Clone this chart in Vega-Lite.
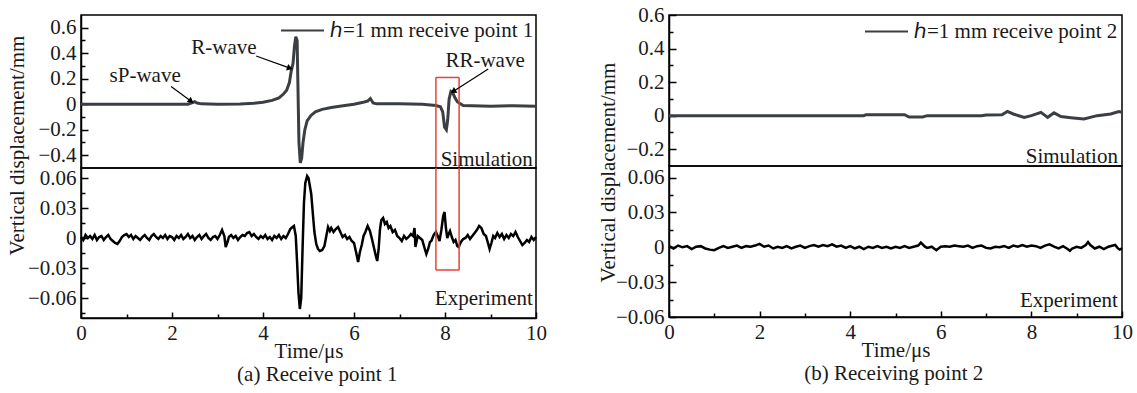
{
  "$schema": "https://vega.github.io/schema/vega-lite/v6.json",
  "padding": {"left": 5, "top": 3, "right": 5, "bottom": 5},
  "background": "white",
  "config": {
    "font": "Liberation Serif",
    "view": {"stroke": "black", "strokeWidth": 1.5},
    "axis": {"labelFont": "Liberation Serif", "labelFontSize": 21, "labelColor": "#1a1a1a", "titleFont": "Liberation Serif", "titleFontSize": 21, "titleFontWeight": "normal", "titleColor": "#1a1a1a", "domainColor": "black", "domainWidth": 1.5, "tickColor": "black", "tickWidth": 1.5, "grid": false, "labelFlush": false, "labelOverlap": false, "labelBound": false, "labelPadding": 12},
    "legend": {"labelFont": "Liberation Serif", "labelFontSize": 21, "labelColor": "#1a1a1a", "symbolType": "stroke", "symbolStrokeWidth": 2, "symbolSize": 1849, "symbolStrokeColor": "black", "labelLimit": 400},
    "title": {"font": "Liberation Serif", "fontSize": 21, "fontWeight": "normal", "color": "#1a1a1a"},
    "text": {"font": "Liberation Serif", "fontSize": 21, "color": "#1a1a1a"}
  },
  "datasets": {
    "simA": [
      {"t":0,"v":0},{"t":2.35,"v":0},{"t":2.45,"v":0.012},{"t":2.5,"v":0.02},{"t":2.55,"v":0.01},{"t":2.65,"v":0.003},{"t":3.0,"v":0.0},{"t":3.5,"v":0.002},{"t":3.8,"v":0.008},{"t":4.0,"v":0.015},{"t":4.2,"v":0.03},{"t":4.35,"v":0.05},{"t":4.45,"v":0.08},{"t":4.52,"v":0.11},{"t":4.58,"v":0.17},{"t":4.62,"v":0.26},{"t":4.66,"v":0.32},{"t":4.69,"v":0.45},{"t":4.72,"v":0.53},{"t":4.75,"v":0.5},{"t":4.77,"v":0.1},{"t":4.79,"v":-0.3},{"t":4.82,"v":-0.46},{"t":4.85,"v":-0.42},{"t":4.88,"v":-0.3},{"t":4.92,"v":-0.2},{"t":4.97,"v":-0.13},{"t":5.05,"v":-0.09},{"t":5.15,"v":-0.06},{"t":5.3,"v":-0.04},{"t":5.5,"v":-0.025},{"t":5.8,"v":-0.01},{"t":6.0,"v":0.0},{"t":6.2,"v":0.015},{"t":6.3,"v":0.025},{"t":6.36,"v":0.045},{"t":6.42,"v":0.01},{"t":6.5,"v":0.003},{"t":7.0,"v":0.003},{"t":7.5,"v":0.0},{"t":7.8,"v":-0.01},{"t":7.9,"v":-0.02},{"t":7.95,"v":-0.06},{"t":7.99,"v":-0.18},{"t":8.03,"v":-0.2},{"t":8.06,"v":-0.12},{"t":8.09,"v":0.04},{"t":8.13,"v":0.1},{"t":8.17,"v":0.09},{"t":8.22,"v":0.05},{"t":8.27,"v":0.02},{"t":8.33,"v":0.005},{"t":8.4,"v":-0.01},{"t":8.6,"v":-0.012},{"t":9.0,"v":-0.015},{"t":9.5,"v":-0.012},{"t":10.0,"v":-0.015}
    ],
    "expA": [
      {"t":0.00,"v":0.001},{"t":0.05,"v":-0.002},{"t":0.10,"v":0.003},{"t":0.15,"v":0.000},{"t":0.20,"v":0.002},{"t":0.25,"v":-0.001},{"t":0.30,"v":0.003},{"t":0.35,"v":-0.002},{"t":0.40,"v":0.001},{"t":0.45,"v":0.002},{"t":0.50,"v":-0.002},{"t":0.55,"v":0.001},{"t":0.60,"v":0.003},{"t":0.65,"v":-0.001},{"t":0.70,"v":-0.003},{"t":0.75,"v":-0.005},{"t":0.80,"v":-0.006},{"t":0.85,"v":-0.003},{"t":0.90,"v":0.001},{"t":0.95,"v":0.003},
      {"t":1.00,"v":0.004},{"t":1.05,"v":0.001},{"t":1.10,"v":0.003},{"t":1.15,"v":-0.001},{"t":1.20,"v":0.002},{"t":1.25,"v":0.000},{"t":1.30,"v":-0.002},{"t":1.35,"v":0.001},{"t":1.40,"v":0.003},{"t":1.45,"v":0.000},{"t":1.50,"v":-0.002},{"t":1.55,"v":0.002},{"t":1.60,"v":0.004},{"t":1.65,"v":0.001},{"t":1.70,"v":-0.001},{"t":1.75,"v":0.002},{"t":1.80,"v":0.000},{"t":1.85,"v":0.003},{"t":1.90,"v":-0.001},{"t":1.95,"v":0.002},
      {"t":2.00,"v":0.001},{"t":2.05,"v":-0.002},{"t":2.10,"v":0.002},{"t":2.15,"v":0.000},{"t":2.20,"v":0.003},{"t":2.25,"v":-0.001},{"t":2.30,"v":0.001},{"t":2.35,"v":0.004},{"t":2.40,"v":0.000},{"t":2.45,"v":0.002},{"t":2.50,"v":-0.002},{"t":2.55,"v":0.001},{"t":2.60,"v":0.003},{"t":2.65,"v":-0.001},{"t":2.70,"v":0.002},{"t":2.75,"v":0.004},{"t":2.80,"v":0.000},{"t":2.85,"v":-0.002},{"t":2.90,"v":0.001},{"t":2.95,"v":0.002},
      {"t":3.00,"v":-0.001},{"t":3.05,"v":0.003},{"t":3.10,"v":0.008},{"t":3.15,"v":0.002},{"t":3.18,"v":-0.009},{"t":3.22,"v":-0.004},{"t":3.25,"v":0.001},{"t":3.30,"v":0.003},{"t":3.35,"v":0.000},{"t":3.40,"v":0.002},{"t":3.45,"v":-0.002},{"t":3.50,"v":0.001},{"t":3.55,"v":0.003},{"t":3.60,"v":0.002},{"t":3.65,"v":0.005},{"t":3.70,"v":0.006},{"t":3.75,"v":0.002},{"t":3.80,"v":0.004},{"t":3.85,"v":0.001},{"t":3.90,"v":-0.001},{"t":3.95,"v":0.002},
      {"t":4.00,"v":0.000},{"t":4.05,"v":0.003},{"t":4.10,"v":-0.001},{"t":4.15,"v":0.001},{"t":4.20,"v":-0.002},{"t":4.25,"v":0.002},{"t":4.30,"v":0.000},{"t":4.35,"v":0.003},{"t":4.40,"v":-0.001},{"t":4.45,"v":0.002},{"t":4.50,"v":0.000},{"t":4.55,"v":0.004},{"t":4.60,"v":0.009},{"t":4.65,"v":0.011},{"t":4.68,"v":0.012},{"t":4.72,"v":0.002},{"t":4.75,"v":-0.025},{"t":4.78,"v":-0.055},{"t":4.81,"v":-0.071},{"t":4.84,"v":-0.060},{"t":4.87,"v":-0.010},{"t":4.90,"v":0.035},{"t":4.93,"v":0.055},{"t":4.97,"v":0.062},
      {"t":5.00,"v":0.060},{"t":5.03,"v":0.052},{"t":5.06,"v":0.044},{"t":5.10,"v":0.022},{"t":5.13,"v":0.006},{"t":5.17,"v":-0.006},{"t":5.21,"v":-0.011},{"t":5.25,"v":-0.013},{"t":5.30,"v":-0.012},{"t":5.35,"v":-0.008},{"t":5.40,"v":0.004},{"t":5.43,"v":0.011},{"t":5.47,"v":0.007},{"t":5.50,"v":0.010},{"t":5.55,"v":0.006},{"t":5.60,"v":0.009},{"t":5.65,"v":0.011},{"t":5.70,"v":0.006},{"t":5.75,"v":0.001},{"t":5.80,"v":0.003},{"t":5.85,"v":-0.001},{"t":5.90,"v":0.001},{"t":5.95,"v":-0.003},
      {"t":6.00,"v":-0.005},{"t":6.05,"v":-0.015},{"t":6.09,"v":-0.024},{"t":6.13,"v":-0.014},{"t":6.17,"v":-0.007},{"t":6.21,"v":0.002},{"t":6.25,"v":0.006},{"t":6.30,"v":0.012},{"t":6.35,"v":0.007},{"t":6.40,"v":-0.002},{"t":6.44,"v":-0.010},{"t":6.48,"v":-0.018},{"t":6.51,"v":-0.023},{"t":6.54,"v":-0.012},{"t":6.57,"v":0.008},{"t":6.60,"v":0.018},{"t":6.64,"v":0.020},{"t":6.68,"v":0.014},{"t":6.72,"v":0.016},{"t":6.76,"v":0.010},{"t":6.80,"v":0.012},{"t":6.85,"v":0.006},{"t":6.90,"v":0.008},{"t":6.95,"v":0.002},
      {"t":7.00,"v":0.000},{"t":7.05,"v":-0.003},{"t":7.10,"v":0.002},{"t":7.15,"v":-0.001},{"t":7.20,"v":0.001},{"t":7.25,"v":0.004},{"t":7.30,"v":0.002},{"t":7.33,"v":0.010},{"t":7.35,"v":-0.009},{"t":7.40,"v":0.002},{"t":7.45,"v":0.000},{"t":7.50,"v":-0.002},{"t":7.55,"v":-0.010},{"t":7.59,"v":-0.016},{"t":7.63,"v":-0.011},{"t":7.67,"v":-0.004},{"t":7.70,"v":-0.003},{"t":7.75,"v":0.003},{"t":7.80,"v":0.006},{"t":7.85,"v":0.001},{"t":7.88,"v":-0.003},{"t":7.92,"v":0.008},{"t":7.96,"v":0.022},{"t":7.99,"v":0.026},
      {"t":8.02,"v":0.010},{"t":8.05,"v":0.000},{"t":8.08,"v":0.004},{"t":8.11,"v":0.007},{"t":8.15,"v":0.001},{"t":8.19,"v":-0.004},{"t":8.23,"v":-0.002},{"t":8.27,"v":-0.008},{"t":8.30,"v":-0.009},{"t":8.35,"v":-0.004},{"t":8.40,"v":-0.001},{"t":8.45,"v":0.000},{"t":8.50,"v":0.003},{"t":8.55,"v":-0.001},{"t":8.60,"v":0.002},{"t":8.65,"v":0.005},{"t":8.70,"v":0.008},{"t":8.75,"v":0.012},{"t":8.80,"v":0.010},{"t":8.85,"v":0.004},{"t":8.90,"v":0.002},{"t":8.95,"v":-0.006},{"t":8.98,"v":-0.011},
      {"t":9.02,"v":-0.005},{"t":9.06,"v":0.002},{"t":9.10,"v":0.000},{"t":9.15,"v":0.005},{"t":9.20,"v":0.001},{"t":9.25,"v":0.004},{"t":9.30,"v":-0.001},{"t":9.35,"v":0.003},{"t":9.40,"v":0.000},{"t":9.45,"v":0.004},{"t":9.50,"v":0.002},{"t":9.55,"v":0.006},{"t":9.60,"v":0.001},{"t":9.65,"v":-0.003},{"t":9.70,"v":-0.007},{"t":9.75,"v":-0.005},{"t":9.80,"v":-0.002},{"t":9.85,"v":-0.004},{"t":9.90,"v":0.001},{"t":9.95,"v":-0.002},{"t":10.00,"v":0.001}
    ],
    "simB": [
      {"t":0,"v":0},{"t":4.3,"v":0},{"t":4.35,"v":0.006},{"t":5.2,"v":0.006},{"t":5.3,"v":-0.008},{"t":5.6,"v":-0.008},{"t":5.7,"v":0},{"t":6.9,"v":0},{"t":7.0,"v":0.004},{"t":7.35,"v":0.005},{"t":7.47,"v":0.025},{"t":7.6,"v":0.01},{"t":7.84,"v":-0.01},{"t":8.0,"v":0.0},{"t":8.21,"v":0.02},{"t":8.36,"v":-0.01},{"t":8.5,"v":0.017},{"t":8.65,"v":-0.005},{"t":8.87,"v":-0.012},{"t":9.16,"v":-0.02},{"t":9.45,"v":0.0},{"t":9.75,"v":0.01},{"t":9.93,"v":0.025},{"t":10,"v":0.02}
    ],
    "expB": [
      {"t":0.0,"v":0.001},{"t":0.1,"v":-0.001},{"t":0.2,"v":0.0015},{"t":0.3,"v":0.0},{"t":0.4,"v":0.001},{"t":0.5,"v":-0.0015},{"t":0.6,"v":0.0005},{"t":0.7,"v":0.001},{"t":0.8,"v":-0.001},{"t":0.9,"v":-0.002},
      {"t":1.0,"v":-0.0025},{"t":1.1,"v":-0.0005},{"t":1.2,"v":0.001},{"t":1.3,"v":-0.0005},{"t":1.4,"v":0.0005},{"t":1.5,"v":0.0015},{"t":1.6,"v":-0.0005},{"t":1.7,"v":0.001},{"t":1.8,"v":0.0005},{"t":1.9,"v":0.0015},
      {"t":2.0,"v":0.003},{"t":2.1,"v":0.0005},{"t":2.2,"v":0.0015},{"t":2.3,"v":-0.001},{"t":2.4,"v":0.0005},{"t":2.5,"v":-0.0005},{"t":2.6,"v":0.001},{"t":2.7,"v":-0.001},{"t":2.8,"v":0.0005},{"t":2.9,"v":0.0015},
      {"t":3.0,"v":-0.0005},{"t":3.1,"v":0.001},{"t":3.2,"v":0.002},{"t":3.3,"v":0.0005},{"t":3.4,"v":0.002},{"t":3.5,"v":0.001},{"t":3.6,"v":0.0025},{"t":3.7,"v":0.0005},{"t":3.8,"v":0.0015},{"t":3.9,"v":-0.0005},
      {"t":4.0,"v":0.001},{"t":4.1,"v":-0.001},{"t":4.2,"v":0.0005},{"t":4.3,"v":-0.0015},{"t":4.4,"v":0.0005},{"t":4.5,"v":-0.0005},{"t":4.6,"v":0.001},{"t":4.7,"v":-0.0005},{"t":4.8,"v":0.0005},{"t":4.9,"v":-0.001},
      {"t":5.0,"v":0.0005},{"t":5.1,"v":-0.0005},{"t":5.2,"v":0.001},{"t":5.3,"v":-0.0005},{"t":5.4,"v":0.0005},{"t":5.5,"v":0.0015},{"t":5.56,"v":0.004},{"t":5.65,"v":0.0005},{"t":5.7,"v":-0.0005},{"t":5.8,"v":0.0005},{"t":5.9,"v":-0.0025},
      {"t":6.0,"v":0.0005},{"t":6.1,"v":0.001},{"t":6.2,"v":0.0005},{"t":6.3,"v":0.0015},{"t":6.4,"v":0.001},{"t":6.5,"v":0.0005},{"t":6.6,"v":0.0015},{"t":6.7,"v":-0.0005},{"t":6.8,"v":0.001},{"t":6.9,"v":0.0015},
      {"t":7.0,"v":-0.0005},{"t":7.1,"v":-0.001},{"t":7.2,"v":0.0005},{"t":7.3,"v":0.0},{"t":7.4,"v":0.001},{"t":7.5,"v":-0.0005},{"t":7.6,"v":0.0015},{"t":7.7,"v":0.0005},{"t":7.8,"v":0.002},{"t":7.9,"v":0.0005},
      {"t":8.0,"v":0.0015},{"t":8.1,"v":0.001},{"t":8.2,"v":-0.0005},{"t":8.3,"v":0.0015},{"t":8.4,"v":0.0025},{"t":8.5,"v":0.0005},{"t":8.6,"v":-0.001},{"t":8.7,"v":0.001},{"t":8.8,"v":-0.0015},{"t":8.85,"v":-0.003},{"t":8.9,"v":-0.001},
      {"t":9.0,"v":0.0005},{"t":9.1,"v":-0.0005},{"t":9.2,"v":0.002},{"t":9.25,"v":0.0045},{"t":9.3,"v":0.002},{"t":9.4,"v":-0.001},{"t":9.5,"v":0.0005},{"t":9.6,"v":-0.0015},{"t":9.7,"v":0.0005},{"t":9.8,"v":0.0015},{"t":9.85,"v":0.002},{"t":9.9,"v":-0.0005},{"t":9.95,"v":-0.002},{"t":10.0,"v":-0.001}
    ],
    "annA": [
      {"label":"sP-wave","t":1.41,"v":0.22,"t1":1.98,"v1":0.14,"t2":2.42,"v2":0.024},
      {"label":"R-wave","t":3.14,"v":0.44,"t1":3.85,"v1":0.378,"t2":4.59,"v2":0.283},
      {"label":"RR-wave","t":8.88,"v":0.34,"t1":8.95,"v1":0.276,"t2":8.18,"v2":0.10}
    ],
    "redBox": [
      {"panel":"sim","t":7.8,"t2":7.8,"v":0.21,"v2":-0.5},
      {"panel":"sim","t":8.31,"t2":8.31,"v":0.21,"v2":-0.5},
      {"panel":"sim","t":7.8,"t2":8.31,"v":0.21,"v2":0.21},
      {"panel":"exp","t":7.8,"t2":7.8,"v":0.07,"v2":-0.032},
      {"panel":"exp","t":8.31,"t2":8.31,"v":0.07,"v2":-0.032},
      {"panel":"exp","t":7.8,"t2":8.31,"v":-0.032,"v2":-0.032}
    ],
    "tagA": [
      {"panel":"sim","text":"Simulation","t":9.93,"v":-0.485},
      {"panel":"exp","text":"Experiment","t":9.93,"v":-0.0665}
    ],
    "tagB": [
      {"panel":"sim","text":"Simulation","t":9.91,"v":-0.28},
      {"panel":"exp","text":"Experiment","t":9.91,"v":-0.051}
    ]
  },
  "hconcat": [
    {
      "title": {"text": "(a) Receive point 1", "orient": "bottom", "anchor": "middle", "offset": 2, "dx": 41},
      "spacing": 0,
      "bounds": "flush",
      "resolve": {"scale": {"color": "independent"}, "legend": {"color": "independent"}},
      "vconcat": [
        {
          "width": 455, "height": 153,
          "encoding": {
            "x": {"field": "t", "type": "quantitative", "scale": {"domain": [0, 10]}, "axis": null},
            "y": {"field": "v", "type": "quantitative", "scale": {"domain": [-0.5, 0.7]},
              "axis": {"title": "Vertical displacement/mm", "titleX": -58, "titleY": 130, "titleBaseline": "alphabetic",
                "values": [-0.4,-0.3,-0.2,-0.1,0,0.1,0.2,0.3,0.4,0.5,0.6],
                "labelExpr": "abs(round(datum.value*10))%2==1 ? '' : format(datum.value, '~g')",
                "tickSize": {"condition": {"test": "abs(round(datum.value*10))%2==1", "value": -4}, "value": -7}}}
          },
          "layer": [
            {"data": {"name": "simA"}, "mark": {"type": "line", "strokeWidth": 3},
              "encoding": {"color": {"datum": "ℎ=1 mm receive point 1", "type": "nominal", "scale": {"range": ["#3b3f43"]},
                "legend": {"title": null, "orient": "none", "legendX": 199, "legendY": -7, "padding": 0, "labelOffset": 5}}}},
            {"data": {"name": "redBox"}, "transform": [{"filter": "datum.panel == 'sim'"}], "mark": {"type": "rule", "color": "#e8413a", "strokeWidth": 1.5},
              "encoding": {"x2": {"field": "t2"}, "y2": {"field": "v2"}}},
            {"data": {"name": "annA"}, "mark": {"type": "text", "align": "center", "baseline": "middle"},
              "encoding": {"text": {"field": "label"}}},
            {"data": {"name": "annA"}, "mark": {"type": "rule", "color": "black", "strokeWidth": 1.2},
              "encoding": {"x": {"field": "t1", "type": "quantitative"}, "y": {"field": "v1", "type": "quantitative"}, "x2": {"field": "t2"}, "y2": {"field": "v2"}}},
            {"data": {"name": "annA"}, "transform": [{"filter": "datum.label == 'sP-wave'"}], "mark": {"type": "point", "shape": "triangle-up", "filled": true, "color": "black", "size": 45, "angle": 127, "opacity": 1},
              "encoding": {"x": {"field": "t2", "type": "quantitative"}, "y": {"field": "v2", "type": "quantitative"}}},
            {"data": {"name": "annA"}, "transform": [{"filter": "datum.label == 'R-wave'"}], "mark": {"type": "point", "shape": "triangle-up", "filled": true, "color": "black", "size": 45, "angle": 109, "opacity": 1},
              "encoding": {"x": {"field": "t2", "type": "quantitative"}, "y": {"field": "v2", "type": "quantitative"}}},
            {"data": {"name": "annA"}, "transform": [{"filter": "datum.label == 'RR-wave'"}], "mark": {"type": "point", "shape": "triangle-up", "filled": true, "color": "black", "size": 45, "angle": 238, "opacity": 1},
              "encoding": {"x": {"field": "t2", "type": "quantitative"}, "y": {"field": "v2", "type": "quantitative"}}},
            {"data": {"name": "tagA"}, "transform": [{"filter": "datum.panel == 'sim'"}], "mark": {"type": "text", "align": "right", "baseline": "alphabetic"},
              "encoding": {"text": {"field": "text"}}}
          ]
        },
        {
          "width": 455, "height": 150,
          "encoding": {
            "x": {"field": "t", "type": "quantitative", "scale": {"domain": [0, 10]},
              "axis": {"title": "Time/μs", "titlePadding": -5, "values": [0,1,2,3,4,5,6,7,8,9,10],
                "labelExpr": "datum.value%2==1 ? '' : datum.label",
                "labelPadding": 10,
                "tickSize": {"condition": {"test": "datum.value%2==1", "value": -4}, "value": -6}}},
            "y": {"field": "v", "type": "quantitative", "scale": {"domain": [-0.08, 0.07]},
              "axis": {"title": null,
                "values": [-0.075,-0.06,-0.045,-0.03,-0.015,0,0.015,0.03,0.045,0.06],
                "labelExpr": "abs(round(datum.value/0.015))%2==1 ? '' : format(datum.value, '~g')",
                "tickSize": {"condition": {"test": "abs(round(datum.value/0.015))%2==1", "value": -4}, "value": -7}}}
          },
          "layer": [
            {"data": {"name": "expA"}, "mark": {"type": "line", "strokeWidth": 2.5, "color": "black"}},
            {"data": {"name": "redBox"}, "transform": [{"filter": "datum.panel == 'exp'"}], "mark": {"type": "rule", "color": "#e8413a", "strokeWidth": 1.5},
              "encoding": {"x2": {"field": "t2"}, "y2": {"field": "v2"}}},
            {"data": {"name": "tagA"}, "transform": [{"filter": "datum.panel == 'exp'"}], "mark": {"type": "text", "align": "right", "baseline": "alphabetic"},
              "encoding": {"text": {"field": "text"}}}
          ]
        }
      ]
    },
    {
      "title": {"text": "(b) Receiving point 2", "orient": "bottom", "anchor": "middle", "offset": 2, "dx": 29},
      "spacing": 0,
      "bounds": "flush",
      "resolve": {"scale": {"color": "independent"}, "legend": {"color": "independent"}},
      "vconcat": [
        {
          "width": 453, "height": 151,
          "encoding": {
            "x": {"field": "t", "type": "quantitative", "scale": {"domain": [0, 10]}, "axis": null},
            "y": {"field": "v", "type": "quantitative", "scale": {"domain": [-0.3, 0.6]},
              "axis": {"title": "Vertical displacement/mm", "titleX": -55, "titleY": 157, "titleBaseline": "alphabetic",
                "values": [-0.2,-0.1,0,0.1,0.2,0.3,0.4,0.5,0.6],
                "labelExpr": "abs(round(datum.value*10))%2==1 ? '' : format(datum.value, '~g')",
                "tickSize": {"condition": {"test": "abs(round(datum.value*10))%2==1", "value": -4}, "value": -7}}}
          },
          "layer": [
            {"data": {"name": "simB"}, "mark": {"type": "line", "strokeWidth": 3},
              "encoding": {"color": {"datum": "ℎ=1 mm receive point 2", "type": "nominal", "scale": {"range": ["#3b3f43"]},
                "legend": {"title": null, "orient": "none", "legendX": 195, "legendY": -6, "padding": 0, "labelOffset": 5}}}},
            {"data": {"name": "tagB"}, "transform": [{"filter": "datum.panel == 'sim'"}], "mark": {"type": "text", "align": "right", "baseline": "alphabetic"},
              "encoding": {"text": {"field": "text"}}}
          ]
        },
        {
          "width": 453, "height": 151,
          "encoding": {
            "x": {"field": "t", "type": "quantitative", "scale": {"domain": [0, 10]},
              "axis": {"title": "Time/μs", "titlePadding": -5, "values": [0,1,2,3,4,5,6,7,8,9,10],
                "labelExpr": "datum.value%2==1 ? '' : datum.label",
                "labelPadding": 10,
                "tickSize": {"condition": {"test": "datum.value%2==1", "value": -4}, "value": -6}}},
            "y": {"field": "v", "type": "quantitative", "scale": {"domain": [-0.06, 0.07]},
              "axis": {"title": null,
                "values": [-0.06,-0.045,-0.03,-0.015,0,0.015,0.03,0.045,0.06],
                "labelExpr": "abs(round(datum.value/0.015))%2==1 ? '' : format(datum.value, '~g')",
                "tickSize": {"condition": {"test": "abs(round(datum.value/0.015))%2==1", "value": -4}, "value": -7}}}
          },
          "layer": [
            {"data": {"name": "expB"}, "mark": {"type": "line", "strokeWidth": 2.5, "color": "black"}},
            {"data": {"name": "tagB"}, "transform": [{"filter": "datum.panel == 'exp'"}], "mark": {"type": "text", "align": "right", "baseline": "alphabetic"},
              "encoding": {"text": {"field": "text"}}}
          ]
        }
      ]
    }
  ],
  "spacing": 48,
  "resolve": {"scale": {"color": "independent"}, "legend": {"color": "independent"}}
}
